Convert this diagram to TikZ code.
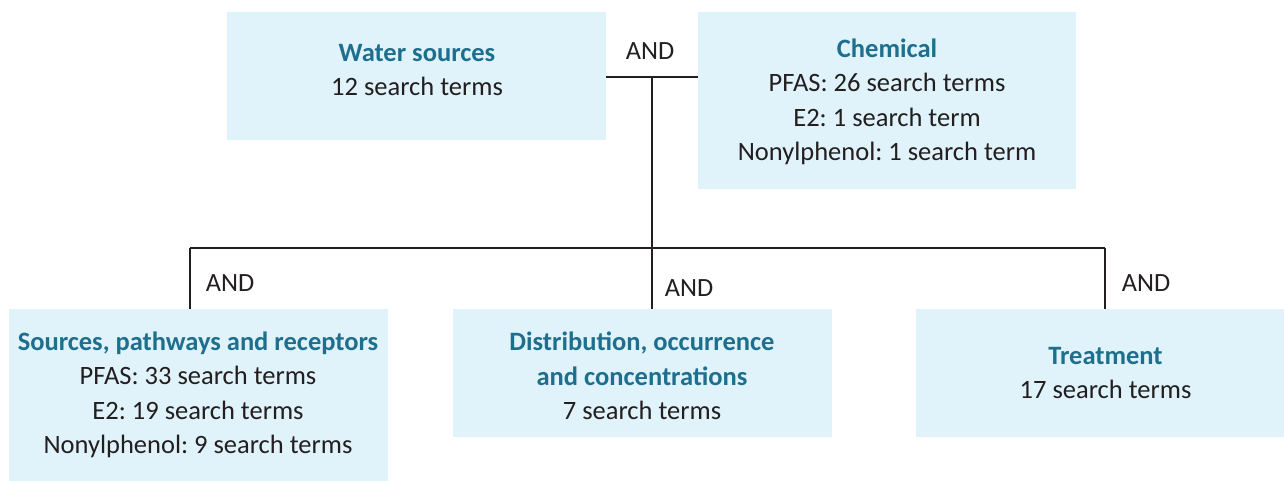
\documentclass[tikz,border=0pt]{standalone}
\usepackage{fontspec}
\setmainfont{Carlito}
\frenchspacing
\definecolor{boxfill}{HTML}{E0F2FA}
\definecolor{titleblue}{HTML}{1E6F8E}
\definecolor{linecol}{HTML}{231F20}
\begin{document}
\begin{tikzpicture}[x=1pt,y=-1pt,
  box/.style={fill=boxfill,draw=none,inner sep=0pt},
  txt/.style={align=center,font=\fontsize{26.5}{34.5}\selectfont,text=linecol,inner sep=0pt},
  andlbl/.style={font=\fontsize{26.3}{28}\selectfont,text=linecol,inner sep=0pt},
  conn/.style={draw=linecol,line width=2.6pt}]
\useasboundingbox (0,0) rectangle (1284,481);
% boxes
\node[box,minimum width=379pt,minimum height=128pt] (water) at (416.5,76) {};
\node[box,minimum width=378pt,minimum height=177pt] (chem) at (887,100.5) {};
\node[box,minimum width=379pt,minimum height=172pt] (src) at (198.5,395) {};
\node[box,minimum width=379pt,minimum height=128pt] (dist) at (642.5,373) {};
\node[box,minimum width=380pt,minimum height=128pt] (treat) at (1106,373) {};
% texts
\node[txt] (twater) at (417,70) {{\bfseries\color{titleblue}Water sources}\\12 search terms};
\node[txt] (tchem) at (887,102) {{\bfseries\color{titleblue}Chemical}\\PFAS: 26 search terms\\E2: 1 search term\\Nonylphenol: 1 search term};
\node[txt] (tsrc) at (198,395) {{\bfseries\color{titleblue}Sources, pathways and receptors}\\PFAS: 33 search terms\\E2: 19 search terms\\Nonylphenol: 9 search terms};
\node[txt] (tdist) at (642,376) {{\bfseries\color{titleblue}Distribution, occurrence}\\{\bfseries\color{titleblue}and concentrations}\\7 search terms};
\node[txt] (ttreat) at (1105.5,373) {{\bfseries\color{titleblue}Treatment}\\17 search terms};
% connectors
\coordinate (tjoin) at (652,77);
\coordinate (hub) at (652,248);
\coordinate (lend) at (190,248);
\coordinate (rend) at (1105,248);
\draw[conn] (water.east |- tjoin) -- (chem.west |- tjoin);
\draw[conn] (tjoin) -- (hub);
\draw[conn] (lend) -- (rend);
\draw[conn] (hub) -- (dist.north -| hub);
\draw[conn] (lend) -- (src.north -| lend);
\draw[conn] (rend) -- (treat.north -| rend);
% AND labels
\node[andlbl] (and0) at (650,51) {AND};
\node[andlbl] (and1) at (230,283) {AND};
\node[andlbl] (and2) at (689,288) {AND};
\node[andlbl] (and3) at (1146,283) {AND};
\end{tikzpicture}
\end{document}
